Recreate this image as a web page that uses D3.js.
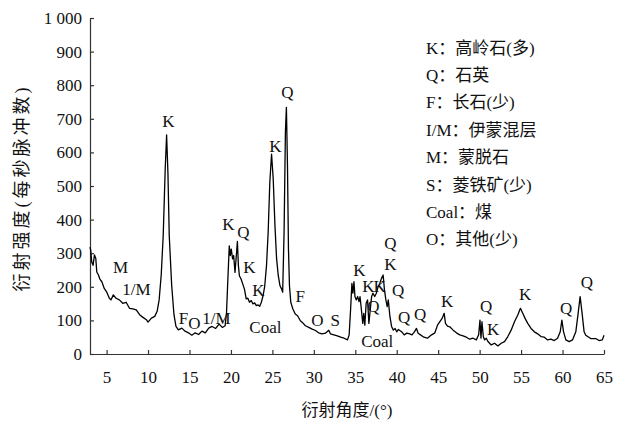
<!DOCTYPE html>
<html lang="zh">
<head>
    <meta charset="UTF-8">
    <title>XRD pattern</title>
    <script src="https://d3js.org/d3.v7.min.js"></script>
    <style>
        body { margin: 0; background: #fff; }
        text { font-family: "Liberation Serif", "Noto Sans CJK SC", serif; fill: #111; }
    </style>
</head>
<body>
<script>
    // diffraction angle (2theta, degrees) and intensity
    var angle = [3.0, 3.09, 3.21, 3.37, 3.54, 3.7, 3.82, 4.02, 4.19, 4.43, 4.72, 5.0, 5.33, 5.53, 5.81, 6.14, 6.54, 6.95, 7.36, 7.76,
        8.17, 8.58, 8.98, 9.39, 9.8, 10.0, 10.41, 10.81, 11.1, 11.34, 11.59, 11.83, 12.07, 12.24, 12.4, 12.56, 12.85, 13.13, 13.37, 13.66,
        14.07, 14.47, 14.88, 15.28, 15.69, 16.1, 16.5, 16.91, 17.32, 17.72, 18.16, 18.57, 18.98, 19.3, 19.47, 19.63, 19.8, 19.92, 20.04, 20.2,
        20.33, 20.49, 20.65, 20.78, 20.9, 21.02, 21.22, 21.43, 21.63, 21.84, 22.04, 22.24, 22.45, 22.65, 22.86, 23.06, 23.27, 23.47, 23.67, 23.88,
        24.08, 24.29, 24.49, 24.69, 24.9, 25.1, 25.31, 25.51, 25.71, 25.92, 26.12, 26.24, 26.41, 26.57, 26.69, 26.82, 26.94, 27.06, 27.22, 27.47,
        27.76, 28.04, 28.37, 28.69, 28.98, 29.39, 29.8, 30.2, 30.57, 30.98, 31.39, 31.8, 32.0, 32.42, 32.83, 33.24, 33.65, 34.06, 34.26, 34.43,
        34.59, 34.71, 34.84, 34.96, 35.12, 35.29, 35.45, 35.57, 35.74, 35.9, 36.02, 36.15, 36.31, 36.48, 36.64, 36.8, 36.97, 37.13, 37.34, 37.54,
        37.75, 37.95, 38.16, 38.36, 38.52, 38.69, 38.85, 38.98, 39.18, 39.39, 39.59, 39.8, 40.0, 40.2, 40.41, 40.61, 40.9, 41.23, 41.56, 41.84,
        42.13, 42.38, 42.58, 42.87, 43.28, 43.7, 44.2, 44.6, 44.92, 45.2, 45.48, 45.72, 45.88, 46.12, 46.4, 46.8, 47.2, 47.6, 48.0, 48.4,
        48.8, 49.2, 49.6, 49.88, 50.04, 50.16, 50.28, 50.44, 50.6, 50.8, 51.0, 51.4, 51.8, 52.2, 52.6, 53.0, 53.4, 53.8, 54.2, 54.6,
        54.92, 55.2, 55.48, 55.8, 56.2, 56.6, 57.0, 57.4, 57.8, 58.2, 58.6, 59.0, 59.4, 59.72, 59.92, 60.12, 60.4, 60.8, 61.2, 61.6,
        61.88, 62.12, 62.36, 62.6, 62.8, 63.4, 64.0, 64.4, 64.8, 65.0];
    var counts = [318, 308, 274, 264, 295, 284, 244, 235, 223, 215, 195, 185, 166, 161, 176, 166, 161, 151, 154, 136,
        134, 131, 117, 109, 102, 95, 107, 112, 127, 161, 235, 352, 549, 652, 539, 352, 205, 117, 82, 72,
        77, 68, 63, 56, 63, 58, 68, 63, 77, 82, 76, 89, 79, 84, 124, 223, 322, 293, 312, 283,
        293, 243, 293, 335, 263, 233, 223, 208, 193, 164, 166, 154, 159, 149, 152, 144, 146, 142, 154, 174,
        203, 263, 362, 511, 595, 521, 382, 283, 233, 203, 193, 184, 362, 660, 734, 561, 312, 203, 154, 134,
        119, 114, 99, 92, 84, 79, 74, 70, 63, 60, 62, 71, 60, 57, 54, 50, 47, 42, 57, 131,
        210, 181, 215, 171, 161, 171, 156, 171, 131, 91, 121, 86, 151, 161, 91, 131, 171, 181, 171, 181,
        200, 210, 225, 235, 190, 161, 141, 161, 111, 81, 71, 76, 66, 73, 69, 66, 57, 62, 60, 57,
        66, 76, 62, 57, 50, 47, 57, 63, 86, 96, 106, 121, 91, 83, 81, 71, 63, 57, 54, 50,
        44, 47, 42, 57, 101, 47, 96, 52, 42, 47, 37, 27, 32, 24, 32, 37, 52, 71, 96, 116,
        136, 121, 106, 91, 76, 66, 60, 52, 50, 42, 44, 40, 47, 66, 101, 66, 42, 37, 42, 66,
        121, 171, 121, 66, 56, 46, 46, 40, 42, 56];

    var xTicks = [5, 10, 15, 20, 25, 30, 35, 40, 45, 50, 55, 60, 65];
    var yTicks = [0, 100, 200, 300, 400, 500, 600, 700, 800, 900, 1000];
    var yTickLabels = ["0", "100", "200", "300", "400", "500", "600", "700", "800", "900", "1 000"];

    // phase marks: text, angle, intensity where the letter sits
    var markText = ["M", "1/M", "K", "F", "O", "1/M", "K", "Q", "K", "K", "Coal", "K", "Q", "F", "O", "S",
        "K", "K", "K", "Q", "Q", "K", "Q", "Coal", "Q", "Q", "K", "Q", "K", "K", "Q", "Q"];
    var markAngle = [6.7, 8.6, 12.47, 14.28, 15.6, 18.25, 19.7, 21.5, 22.23, 23.31, 24.16, 25.36, 26.81, 28.37, 30.42, 32.59,
        35.48, 36.57, 37.95, 37.17, 39.22, 39.22, 40.18, 37.65, 40.9, 42.83, 46.08, 50.78, 51.63, 55.48, 60.42, 62.95];
    var markCount = [256, 193, 693, 107, 92, 107, 384, 363, 256, 190, 80, 619, 777, 170, 101, 101,
        250, 200, 200, 142, 330, 265, 190, 36, 110, 119, 155, 140, 74, 176, 134, 214];

    var legendLines = ["K：高岭石(多)", "Q：石英", "F：长石(少)", "I/M：伊蒙混层", "M：蒙脱石",
        "S：菱铁矿(少)", "Coal：煤", "O：其他(少)"];

    var w = 632, h = 430;
    var svg = d3.select("body").append("svg")
        .attr("width", w)
        .attr("height", h);

    var x = d3.scaleLinear().domain([3, 65]).range([90, 604]);
    var y = d3.scaleLinear().domain([0, 1000]).range([354, 18]);

    // axes, ticks point inward
    var xAxis = d3.axisBottom(x).tickValues(xTicks).tickSizeInner(-4).tickSizeOuter(0).tickPadding(17);
    var yAxis = d3.axisLeft(y).tickValues(yTicks).tickSizeInner(-4).tickSizeOuter(0).tickPadding(8)
        .tickFormat(function(d, i) { return yTickLabels[i]; });

    var gx = svg.append("g").attr("transform", "translate(0,354)").call(xAxis);
    var gy = svg.append("g").attr("transform", "translate(90,0)").call(yAxis);
    [gx, gy].forEach(function(g) {
        g.selectAll("path, line").attr("stroke", "#333").attr("stroke-width", 1.2);
        g.selectAll("text").attr("font-size", 17).attr("fill", "#111")
            .style("font-family", '"Liberation Serif", serif');
    });

    // the pattern
    var line = d3.line()
        .x(function(d, i) { return x(angle[i]); })
        .y(function(d) { return y(d); });

    svg.append("path")
        .datum(counts)
        .attr("d", line)
        .attr("fill", "none")
        .attr("stroke", "#000")
        .attr("stroke-width", 1.3)
        .attr("stroke-linejoin", "round");

    // peak letters
    svg.selectAll("text.mark")
        .data(markText)
        .enter()
        .append("text")
        .attr("class", "mark")
        .attr("x", function(d, i) { return x(markAngle[i]); })
        .attr("y", function(d, i) { return y(markCount[i]); })
        .attr("text-anchor", "middle")
        .attr("dominant-baseline", "central")
        .attr("font-size", 17)
        .text(function(d) { return d; });

    // legend block, top right
    svg.selectAll("text.legend")
        .data(legendLines)
        .enter()
        .append("text")
        .attr("class", "legend")
        .attr("x", 426)
        .attr("y", function(d, i) { return 48 + i * 27.4; })
        .attr("dominant-baseline", "central")
        .attr("font-size", 17)
        .text(function(d) { return d; });

    // axis titles
    svg.append("text")
        .attr("x", 347)
        .attr("y", 410)
        .attr("text-anchor", "middle")
        .attr("dominant-baseline", "central")
        .attr("font-size", 17)
        .text("衍射角度/(°)");

    svg.append("text")
        .attr("transform", "translate(22,188) rotate(-90)")
        .attr("text-anchor", "middle")
        .attr("dominant-baseline", "central")
        .attr("font-size", 18)
        .attr("letter-spacing", 3)
        .text("衍射强度(每秒脉冲数)");
</script>
</body>
</html>
